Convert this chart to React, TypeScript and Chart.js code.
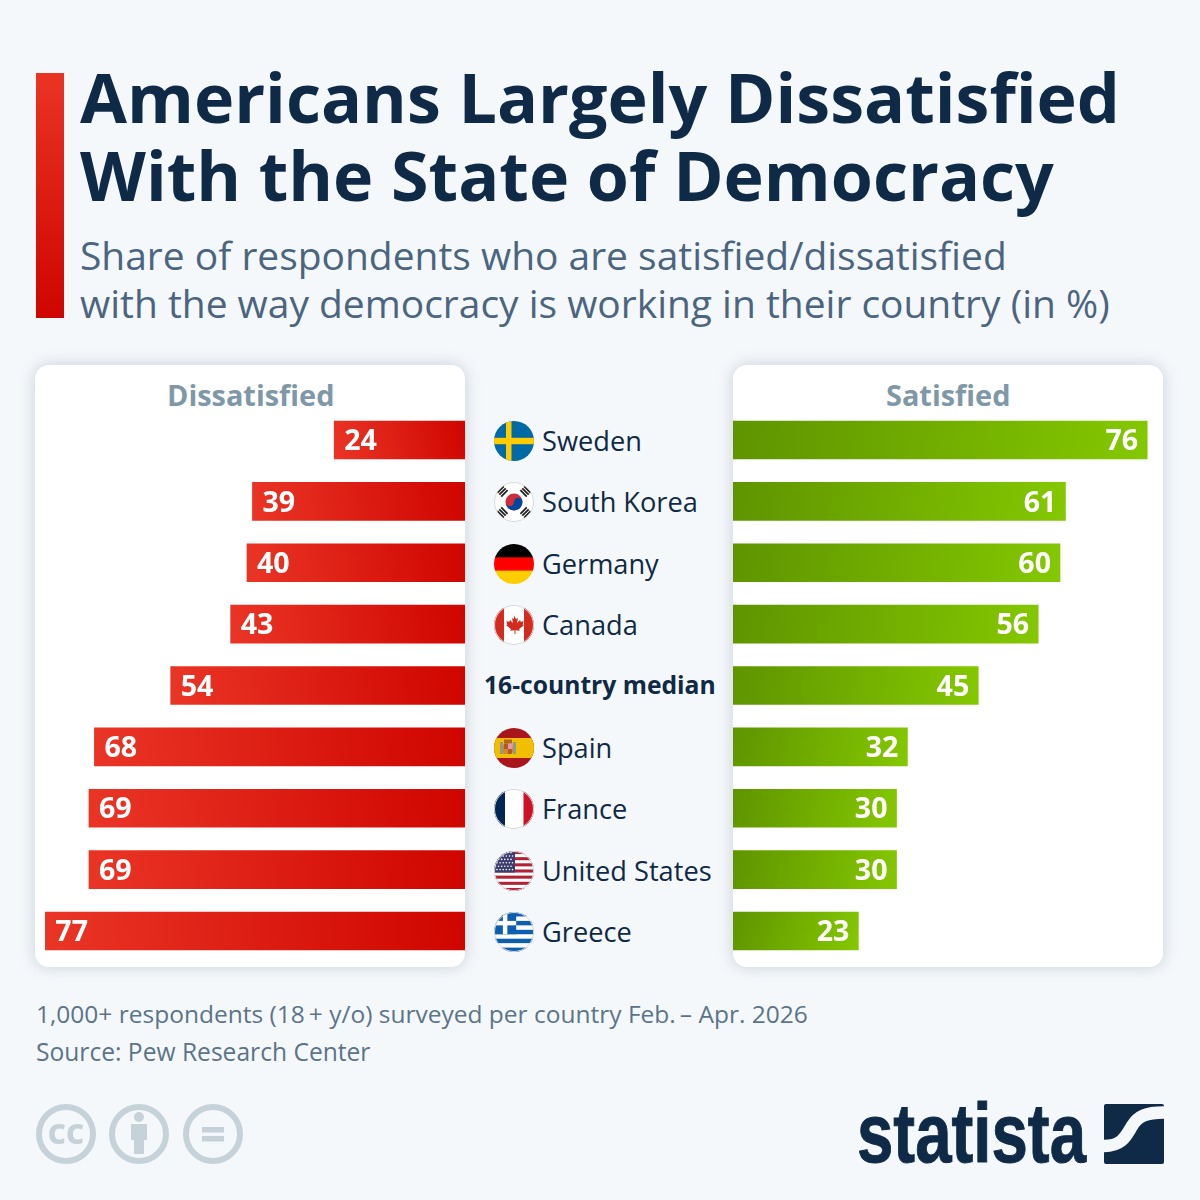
import { useEffect, useRef } from "react";
import { Chart, registerables } from "chart.js";

Chart.register(...registerables);

const countries = ["Sweden", "South Korea", "Germany", "Canada", "16-country median", "Spain", "France", "United States", "Greece"];
const dissatisfied = [24, 39, 40, 43, 54, 68, 69, 69, 77];
const satisfied = [76, 61, 60, 56, 45, 32, 30, 30, 23];

const FONT = "'Open Sans', sans-serif";
const AXIS_MAX = 430 / 5.45;
const ROW_TOP = 440;
const ROW_STEP = 61.375;

type BarsProps = {
  values: number[];
  left: number;
  colors: [string, string];
  reverse?: boolean;
};

const Bars = ({ values, left, colors, reverse }: BarsProps) => {
  const ref = useRef<HTMLCanvasElement | null>(null);

  useEffect(() => {
    if (!ref.current) return;
    const chart = new Chart(ref.current, {
      type: "bar",
      data: {
        labels: countries,
        datasets: [
          {
            data: values,
            barThickness: 38,
            backgroundColor: (c: any) => {
              const x = c.chart.scales.x;
              const y = c.chart.scales.y;
              if (c.type !== "data" || !x || !y) return colors[0];
              const yc = y.getPixelForValue(c.dataIndex);
              const x0 = x.getPixelForValue(values[c.dataIndex]);
              const x1 = x.getPixelForValue(0);
              // scales have no pixels yet on the first pass
              if (!isFinite(yc) || !isFinite(x0) || !isFinite(x1)) return colors[0];
              const g = c.chart.ctx.createLinearGradient(x0, yc + 19, x1, yc - 19);
              g.addColorStop(0, colors[0]);
              g.addColorStop(1, colors[1]);
              return g;
            },
          },
        ],
      },
      options: {
        indexAxis: "y",
        animation: false,
        responsive: false,
        devicePixelRatio: 1,
        layout: { padding: { top: 0.31, bottom: 0.31 } },
        plugins: { legend: { display: false }, tooltip: { enabled: false } },
        scales: {
          x: { display: false, min: 0, max: AXIS_MAX, reverse: !!reverse },
          y: { display: false },
        },
      },
      plugins: [
        {
          id: "valueLabels",
          afterDatasetsDraw(ch: any) {
            const ctx = ch.ctx;
            ctx.save();
            ctx.font = `700 28.6px ${FONT}`;
            ctx.fillStyle = "#ffffff";
            ctx.textBaseline = "middle";
            ctx.textAlign = reverse ? "left" : "right";
            ch.getDatasetMeta(0).data.forEach((bar: any, i: number) => {
              ctx.fillText(String(values[i]), bar.x + (reverse ? 10 : -9), bar.y + 2);
            });
            ctx.restore();
          },
        },
      ],
    } as any);
    return () => chart.destroy();
  }, []);

  return (
    <canvas
      ref={ref}
      width={430}
      height={553}
      style={{ position: "absolute", left, top: 409, width: 430, height: 553 }}
    />
  );
};

const Flag = ({ name, y }: { name: string; y: number }) => {
  const id = "clip" + name.replace(" ", "");
  let body: any = null;
  let ring = false;
  if (name === "Sweden") {
    body = (
      <>
        <rect width="40" height="40" fill="#006aa7" />
        <rect x="12" width="5.5" height="40" fill="#fecc00" />
        <rect y="16.8" width="40" height="6.4" fill="#fecc00" />
      </>
    );
  } else if (name === "South Korea") {
    ring = true;
    const tri = (x: number, yy: number, a: number) => (
      <g transform={`translate(${x} ${yy}) rotate(${a})`} fill="#222">
        <rect x="-4.5" y="-3.6" width="9" height="1.8" />
        <rect x="-4.5" y="-0.9" width="9" height="1.8" />
        <rect x="-4.5" y="1.8" width="9" height="1.8" />
      </g>
    );
    body = (
      <>
        <rect width="40" height="40" fill="#fff" />
        <circle cx="20" cy="20" r="8.5" fill="#cd2e3a" />
        <path d="M11.5 20a8.5 8.5 0 0 0 17 0a4.25 4.25 0 0 0-8.5 0a4.25 4.25 0 0 1-8.5 0z" fill="#0047a0" />
        {tri(8.5, 9.5, -45)}
        {tri(31.5, 9.5, 45)}
        {tri(8.5, 30.5, 45)}
        {tri(31.5, 30.5, -45)}
      </>
    );
  } else if (name === "Germany") {
    body = (
      <>
        <rect width="40" height="14" fill="#000" />
        <rect y="13.3" width="40" height="13.7" fill="#ff0000" />
        <rect y="26.6" width="40" height="13.4" fill="#ffce00" />
      </>
    );
  } else if (name === "Canada") {
    ring = true;
    body = (
      <>
        <rect width="40" height="40" fill="#fff" />
        <rect width="10" height="40" fill="#d52b1e" />
        <rect x="30" width="10" height="40" fill="#d52b1e" />
        <path
          d="M20 10.5l2 3.5 2-1-1 5 3-3 .7 1.8 3-.5-1 3.2 1.2.7-4.7 3.8.6 1.8-4.3-.6V29h-1v-3.8l-4.3.6.6-1.8-4.7-3.8 1.2-.7-1-3.2 3 .5.7-1.8 3 3-1-5 2 1z"
          fill="#d52b1e"
        />
      </>
    );
  } else if (name === "Spain") {
    body = (
      <>
        <rect width="40" height="40" fill="#aa151b" />
        <rect y="10" width="40" height="20" fill="#f1bf00" />
        <rect x="6" y="14" width="3" height="12" fill="#8f9a8a" />
        <rect x="19" y="14" width="3" height="12" fill="#8f9a8a" />
        <rect x="10" y="11.5" width="8" height="4" fill="#b5651d" />
        <rect x="9.5" y="15.5" width="9" height="10.5" rx="2" fill="#b5561f" />
        <rect x="14" y="15.5" width="4.5" height="5.5" fill="#e39ab0" />
        <rect x="9.5" y="21" width="4.5" height="5" fill="#cf8a2e" />
      </>
    );
  } else if (name === "France") {
    ring = true;
    body = (
      <>
        <rect width="40" height="40" fill="#fff" />
        <rect width="11" height="40" fill="#002654" />
        <rect x="29.5" width="10.5" height="40" fill="#ce1126" />
      </>
    );
  } else if (name === "United States") {
    ring = true;
    const stripes = [0, 1, 2, 3, 4, 5, 6].map((i) => (
      <rect key={i} y={i * 6.154} width="40" height="3.077" fill="#b22234" />
    ));
    const stars: any[] = [];
    for (let r = 0; r < 6; r++)
      for (let c = 0; c < 6; c++)
        stars.push(<circle key={r + "-" + c} cx={1.5 + c * 3.1 + (r % 2) * 1.5} cy={1.6 + r * 3.4} r="0.8" fill="#fff" />);
    body = (
      <>
        <rect width="40" height="40" fill="#fff" />
        {stripes}
        <rect width="21" height="21.5" fill="#3c3b6e" />
        {stars}
      </>
    );
  } else if (name === "Greece") {
    ring = true;
    const stripes = [0, 1, 2, 3, 4].map((i) => (
      <rect key={i} y={i * 8.9} width="40" height="4.45" fill="#0d5eaf" />
    ));
    body = (
      <>
        <rect width="40" height="40" fill="#fff" />
        {stripes}
        <rect width="22.2" height="22.2" fill="#0d5eaf" />
        <rect x="8.9" width="4.45" height="22.2" fill="#fff" />
        <rect y="8.9" width="22.2" height="4.45" fill="#fff" />
      </>
    );
  }
  return (
    <svg width="40" height="40" viewBox="0 0 40 40" style={{ position: "absolute", left: 494, top: y - 19 }}>
      <clipPath id={id}>
        <circle cx="20" cy="20" r="20" />
      </clipPath>
      <g clipPath={`url(#${id})`}>{body}</g>
      {ring && <circle cx="20" cy="20" r="19.5" fill="none" stroke="#d4d8dc" strokeWidth="1" />}
    </svg>
  );
};

const Label = ({ text, left, top, style }: { text: string; left: number; top: number; style: any }) => (
  <div style={{ position: "absolute", left, top, whiteSpace: "pre", fontFamily: FONT, ...style }}>{text}</div>
);

const Panel = ({ left }: { left: number }) => (
  <div
    style={{
      position: "absolute",
      left,
      top: 365,
      width: 430,
      height: 602,
      background: "#fff",
      borderRadius: 14,
      boxShadow: "0 0 16px rgba(40,70,100,0.22)",
    }}
  />
);

const Badge = ({ x, children }: { x: number; children: any }) => (
  <g transform={`translate(${x} 1134)`}>
    <circle r="27" fill="none" stroke="#c6d2d9" strokeWidth="6" />
    {children}
  </g>
);

export default function App() {
  return (
    <div style={{ position: "absolute", left: 0, top: 0, width: 1200, height: 1200, background: "#f5f8fb", overflow: "hidden" }}>
      <div style={{ position: "absolute", left: 36, top: 73, width: 28, height: 245, background: "linear-gradient(180deg,#e93424,#cf0500)" }} />
      <Label text="Americans Largely Dissatisfied" left={80} top={51} style={{ fontSize: 68.15, fontWeight: 700, lineHeight: "92px", color: "#0f2a46" }} />
      <Label text="With the State of Democracy" left={80} top={129} style={{ fontSize: 68.15, fontWeight: 700, lineHeight: "92px", color: "#0f2a46" }} />
      <Label text="Share of respondents who are satisfied/dissatisfied" left={80} top={229} style={{ fontSize: 38.95, lineHeight: "52px", color: "#4b6580" }} />
      <Label text="with the way democracy is working in their country (in %)" left={80} top={277} style={{ fontSize: 38.95, lineHeight: "52px", color: "#4b6580" }} />

      <Panel left={35} />
      <Panel left={733} />
      <Label text="Dissatisfied" left={167} top={375} style={{ fontSize: 28.9, fontWeight: 700, lineHeight: "40px", color: "#7f98a8" }} />
      <Label text="Satisfied" left={886} top={375} style={{ fontSize: 28.9, fontWeight: 700, lineHeight: "40px", color: "#7f98a8" }} />
      <Bars values={dissatisfied} left={35} colors={["#ea3526", "#cf0500"]} reverse />
      <Bars values={satisfied} left={733} colors={["#84c800", "#5f9400"]} />

      {countries.map((name, i) => {
        const y = ROW_TOP + i * ROW_STEP;
        if (name.includes("median")) {
          return <Label key={name} text={name} left={484} top={y - 21} style={{ fontSize: 24.65, fontWeight: 700, lineHeight: "40px", color: "#0f2a46" }} />;
        }
        return (
          <div key={name}>
            <Flag name={name} y={y} />
            <Label text={name} left={542} top={y - 19} style={{ fontSize: 27.2, lineHeight: "40px", color: "#0f2a46" }} />
          </div>
        );
      })}

      <Label text={"1,000+ respondents (18\u2009+ y/o) surveyed per country Feb.\u2009\u2013 Apr. 2026"} left={36} top={994} style={{ fontSize: 24.5, lineHeight: "40px", color: "#5b7489" }} />
      <Label text="Source: Pew Research Center" left={36} top={1032} style={{ fontSize: 24.6, lineHeight: "40px", color: "#5b7489" }} />

      <svg width="1200" height="1200" style={{ position: "absolute", left: 0, top: 0 }}>
        <Badge x={66}>
          <text x="0" y="10" textAnchor="middle" fontFamily={FONT} fontWeight="800" fontSize="28" fill="#c6d2d9">CC</text>
        </Badge>
        <Badge x={139}>
          <circle cy="-17" r="5" fill="#c6d2d9" />
          <path d="M-8-10H8V6H5V20H-5V6H-8z" fill="#c6d2d9" />
        </Badge>
        <Badge x={213}>
          <rect x="-11" y="-7" width="22" height="5.5" fill="#c6d2d9" />
          <rect x="-11" y="2" width="22" height="5.5" fill="#c6d2d9" />
        </Badge>
        <text
          x="857"
          y="1162"
          fontFamily="'Liberation Sans', sans-serif"
          fontWeight="700"
          fontSize="84"
          fill="#0f2a46"
          stroke="#0f2a46"
          strokeWidth="1"
          textLength="229"
          lengthAdjust="spacingAndGlyphs"
        >
          statista
        </text>
        <rect x="1104" y="1104" width="60" height="60" rx="2" fill="#0f2a46" />
        <path d="M1104 1146C1122 1146 1126 1136 1132 1126C1138 1116 1146 1112.5 1164 1112.5" fill="none" stroke="#f5f8fb" strokeWidth="12.5" />
      </svg>
    </div>
  );
}
